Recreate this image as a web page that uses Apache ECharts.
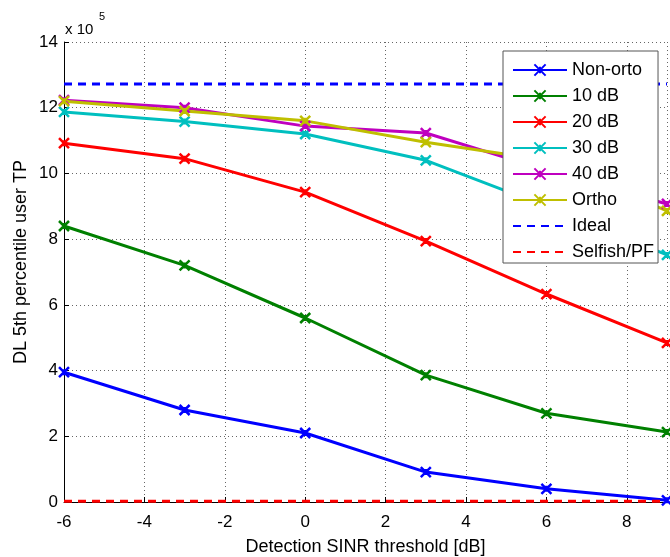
<!DOCTYPE html>
<html><head><meta charset="utf-8">
<script src="https://cdn.jsdelivr.net/npm/echarts@6/dist/echarts.min.js"></script>
<style>html,body{margin:0;padding:0;background:#fff}#c{width:670px;height:557px}</style>
</head><body><div id="c"></div>
<script>
const xValues = [-6, -3, 0, 3, 6, 9];
const nonOrto = [3.95, 2.8, 2.1, 0.91, 0.4, 0.05];
const db10 = [8.4, 7.2, 5.6, 3.86, 2.7, 2.13];
const db20 = [10.92, 10.45, 9.43, 7.94, 6.33, 4.84];
const db30 = [11.87, 11.58, 11.2, 10.4, 9.0, 7.52];
const db40 = [12.23, 12.0, 11.44, 11.23, 10.1, 9.07];
const ortho = [12.2, 11.9, 11.6, 10.95, 10.4, 8.86];
const idealValue = 12.72;
const selfishValue = 0.02;
const xRange = [-6, 9];
const names = ['Non-orto', '10 dB', '20 dB', '30 dB', '40 dB', 'Ortho', 'Ideal', 'Selfish/PF'];

const font = '"Liberation Sans", Arial, Helvetica, sans-serif';
const xMark = 'path://M0,0L10,10M10,0L0,10M5,2L5,8';
function pts(arr){ return xValues.map((x,i)=>[x, arr[i]]); }
function lineSeries(name, data, color){
  return {name, type:'line', data:pts(data), symbol:xMark, symbolSize:10,
    lineStyle:{color, width:3}, itemStyle:{color, borderColor:color, borderWidth:2.5},
    emphasis:{disabled:true}, animation:false};
}
const chart = echarts.init(document.getElementById('c'));
chart.setOption({
  animation:false,
  textStyle:{fontFamily:font},
  grid:{left:64, right:3, top:42, bottom:55, containLabel:false, outerBoundsMode:'none'},
  xAxis:{type:'value', min:xRange[0], max:xRange[1], interval:2,
    name:'Detection SINR threshold [dB]', nameLocation:'middle', nameGap:36,
    nameTextStyle:{fontSize:18, color:'#000', fontFamily:font},
    axisLine:{onZero:false, lineStyle:{color:'#000', width:1}},
    axisTick:{inside:true, length:5, lineStyle:{color:'#000'}},
    axisLabel:{color:'#000', fontSize:17, margin:12, showMaxLabel:false, fontFamily:font},
    splitLine:{show:true, lineStyle:{color:'#666', type:[1,3], width:1}}},
  yAxis:{type:'value', min:0, max:14, interval:2,
    axisLine:{show:true, onZero:false, lineStyle:{color:'#000', width:1}},
    axisTick:{show:true, inside:true, length:5, lineStyle:{color:'#000'}},
    axisLabel:{color:'#000', fontSize:17, margin:6, fontFamily:font},
    splitLine:{show:true, lineStyle:{color:'#666', type:[1,3], width:1}}},
  legend:{orient:'vertical', left:503, top:51,
    backgroundColor:'#fff', borderColor:'#555', borderWidth:1,
    padding:[10,4,2,9], itemGap:8, itemWidth:54, itemHeight:14,
    textStyle:{fontSize:18, lineHeight:18, color:'#000', fontFamily:font},
    data:names.map((n,i)=> i>=6 ? {name:n, itemStyle:{opacity:0}} : {name:n})},
  graphic:[
    {type:'text', left:65, top:22, style:{text:'x 10', font:'15px '+font, fill:'#000'}},
    {type:'text', left:99, top:11, style:{text:'5', font:'11px '+font, fill:'#000'}},
    {type:'text', x:21, y:262, rotation:Math.PI/2,
      style:{text:'DL 5th percentile user TP', font:'18px '+font, fill:'#000', align:'center', verticalAlign:'middle'}}
  ],
  series:[
    lineSeries(names[0], nonOrto, '#0000ff'),
    lineSeries(names[1], db10, '#008000'),
    lineSeries(names[2], db20, '#ff0000'),
    lineSeries(names[3], db30, '#00bfbf'),
    lineSeries(names[4], db40, '#bf00bf'),
    lineSeries(names[5], ortho, '#bfbf00'),
    {name:names[6], type:'line', data:[[xRange[0],idealValue],[xRange[1],idealValue]], symbol:'none',
      lineStyle:{color:'#0000ff', width:3, type:[8,6]}, itemStyle:{color:'#0000ff'}},
    {name:names[7], type:'line', data:[[xRange[0],selfishValue],[xRange[1],selfishValue]], symbol:'none',
      lineStyle:{color:'#ff0000', width:3, type:[8,6]}, itemStyle:{color:'#ff0000'}}
  ]
});
</script></body></html>
